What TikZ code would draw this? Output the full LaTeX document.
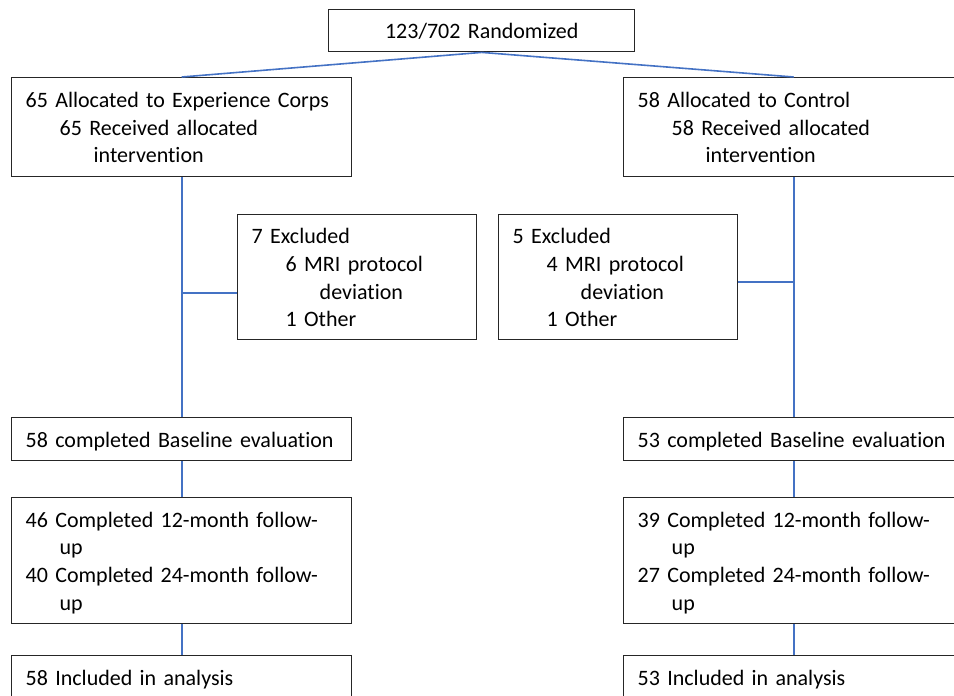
\documentclass[tikz,border=0pt]{standalone}
\usepackage{fontspec}
\setmainfont{Carlito}[Ligatures=NoCommon]
\newcommand{\boxstrut}{\rule[-4pt]{0pt}{24pt}}
\definecolor{linkblue}{HTML}{4472C4}
\begin{document}
\begin{tikzpicture}[x=1pt,y=-1pt,
    box/.style={draw=black!85,line width=1.4pt,anchor=north west,inner xsep=14pt,inner ysep=0pt,
        align=left,font={\fontsize{22}{27.7}\selectfont},
        execute at begin node=\boxstrut,execute at end node=\boxstrut},
    wide/.style={box,text width=312pt,minimum width=340pt},
    narrow/.style={box,text width=211pt,minimum width=239pt},
    link/.style={draw=linkblue,line width=1.6pt}]
                \useasboundingbox (0,0) rectangle (954,696);
                \clip (0,0) rectangle (954,696);
                \node[box,align=center,text width=278pt,minimum width=306pt,minimum height=42pt] (rand) at (328,9) {123/702 Randomized};

                \node[wide,minimum height=99pt] (ec1) at (11,77) {65 Allocated to Experience Corps\\\hspace*{34pt}65 Received allocated\\\hspace*{68pt}intervention};
                \node[wide,minimum height=99pt] (ct1) at (623,77) {58 Allocated to Control\\\hspace*{34pt}58 Received allocated\\\hspace*{68pt}intervention};

                \node[narrow,minimum height=125pt] (ex1) at (237,214) {7 Excluded\\\hspace*{34pt}6 MRI protocol\\\hspace*{68pt}deviation\\\hspace*{34pt}1 Other};
                \node[narrow,minimum height=125pt] (ex2) at (498,214) {5 Excluded\\\hspace*{34pt}4 MRI protocol\\\hspace*{68pt}deviation\\\hspace*{34pt}1 Other};

                \node[wide,minimum height=43pt] (base1) at (11,417) {58 completed Baseline evaluation};
                \node[wide,minimum height=43pt] (base2) at (623,417) {53 completed Baseline evaluation};

                \node[wide,minimum height=126pt] (fu1) at (11,497) {46 Completed 12-month follow-\\\hspace*{34pt}up\\40 Completed 24-month follow-\\\hspace*{34pt}up};
                \node[wide,minimum height=126pt] (fu2) at (623,497) {39 Completed 12-month follow-\\\hspace*{34pt}up\\27 Completed 24-month follow-\\\hspace*{34pt}up};

                \node[wide,minimum height=43pt] (inc1) at (11,655) {58 Included in analysis};
                \node[wide,minimum height=43pt] (inc2) at (623,655) {53 Included in analysis};

                \coordinate (j1) at (181,293);
                \coordinate (j2) at (793,282);

                \draw[link] (rand.south) -- (ec1.north); \draw[link] (rand.south) -- (ct1.north);
                \draw[link] (ec1.south) -- (base1.north); \draw[link] (ct1.south) -- (base2.north);
                \draw[link] (j1) -- (j1 -| ex1.west); \draw[link] (j2) -- (j2 -| ex2.east);
                \draw[link] (base1.south) -- (fu1.north); \draw[link] (base2.south) -- (fu2.north);
                \draw[link] (fu1.south) -- (inc1.north); \draw[link] (fu2.south) -- (inc2.north);
            \end{tikzpicture}
\end{document}
